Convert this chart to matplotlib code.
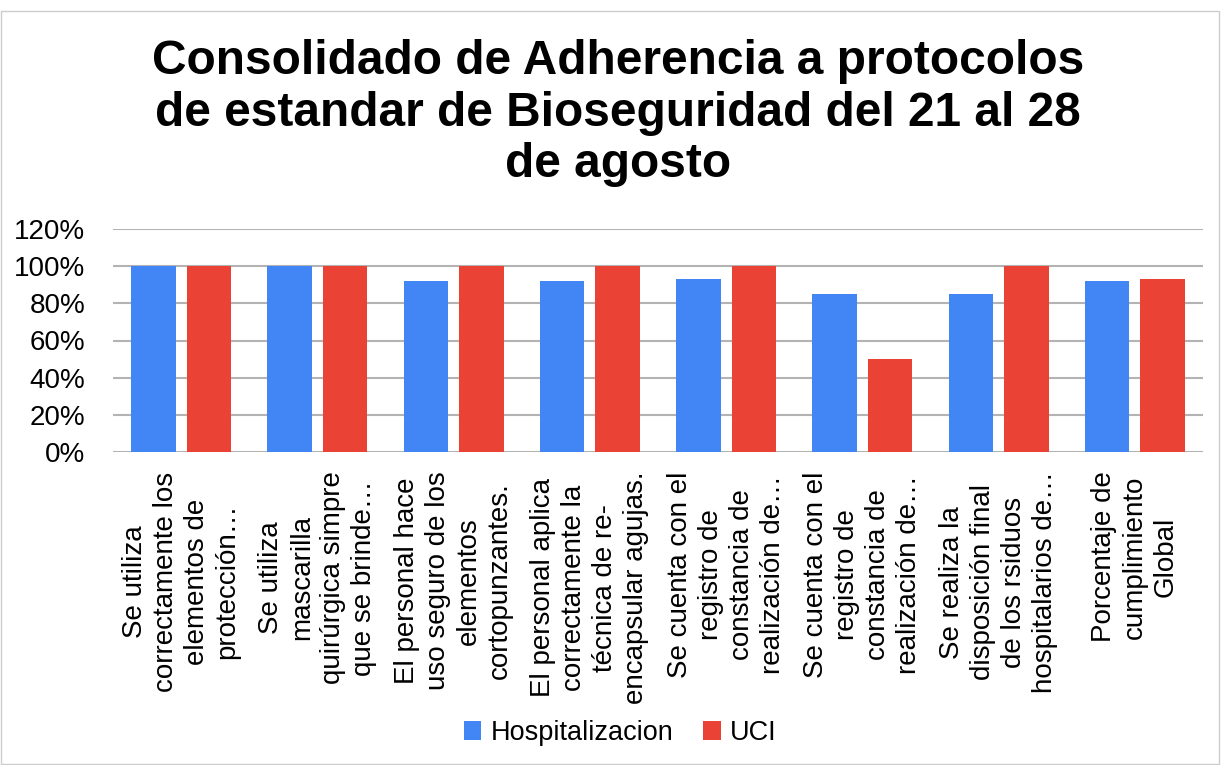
import numpy as np
import matplotlib.pyplot as plt
from matplotlib.patches import Rectangle

# Data
categorias = [
    "Se utiliza\ncorrectamente los\nelementos de\nprotección…",
    "Se utiliza\nmascarilla\nquirúrgica simpre\nque se brinde…",
    "El personal hace\nuso seguro de los\nelementos\ncortopunzantes.",
    "El personal aplica\ncorrectamente la\ntécnica de re-\nencapsular agujas.",
    "Se cuenta con el\nregistro de\nconstancia de\nrealización de…",
    "Se cuenta con el\nregistro de\nconstancia de\nrealización de…",
    "Se realiza la\ndisposición final\nde los rsiduos\nhospitalarios de…",
    "Porcentaje de\ncumplimiento\nGlobal",
]
hospitalizacion = [1.00, 1.00, 0.92, 0.92, 0.93, 0.85, 0.85, 0.92]
uci = [1.00, 1.00, 1.00, 1.00, 1.00, 0.50, 1.00, 0.93]
yticks = [0, 0.2, 0.4, 0.6, 0.8, 1.0, 1.2]
ytick_labels = ["0%", "20%", "40%", "60%", "80%", "100%", "120%"]

plt.rcParams['font.family'] = ['Liberation Sans', 'DejaVu Sans']

fig = plt.figure(figsize=(12.21, 7.65), dpi=100)
ax = fig.add_axes([113 / 1221, 1 - 452 / 765, 1090 / 1221, 223 / 765])

x = np.arange(len(categorias))
w = 0.327
ax.bar(x - 0.204, hospitalizacion, w, color="#4285F4", label="Hospitalizacion", zorder=3)
ax.bar(x + 0.204, uci, w, color="#EA4335", label="UCI", zorder=3)

ax.set_xlim(-0.5, len(categorias) - 0.5)
ax.set_ylim(0, 1.2)
ax.set_yticks(yticks)
ax.set_yticklabels(ytick_labels, fontsize=20)
ax.set_xticks(x)
ax.set_xticklabels(categorias, rotation=90, fontsize=20, ha="center", va="top",
                   multialignment="center", linespacing=1.25)
ax.tick_params(length=0, pad=14)
ax.tick_params(axis="y", pad=20)
ax.grid(axis="y", color="#b3b3b3", linewidth=1.5, zorder=0)
for s in ax.spines.values():
    s.set_visible(False)

fig.text(0.506, 1 - 113 / 765,
         "Consolidado de Adherencia a protocolos\nde estandar de Bioseguridad del 21 al 28\nde agosto",
         ha="center", va="center", fontsize=34.5, fontweight="bold", linespacing=1.18)

ax.legend(loc="center", bbox_to_anchor=(0.508, 1 - 733 / 765), bbox_transform=fig.transFigure,
          ncol=2, frameon=False, fontsize=19.5, handlelength=0.65, handleheight=0.65,
          handletextpad=0.35, columnspacing=1.1)

fig.patches.append(Rectangle((1 / 1221, 1 / 765), 1218 / 1221, 753 / 765,
                             transform=fig.transFigure, fill=False,
                             edgecolor="#cccccc", linewidth=1))

fig.savefig("out.png", dpi=100)
